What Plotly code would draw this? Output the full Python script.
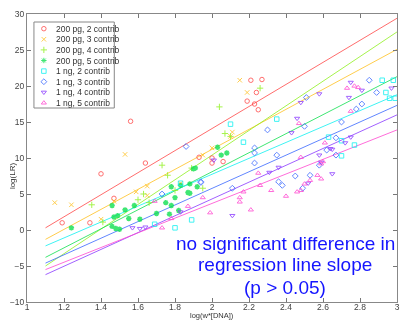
import numpy as np
import plotly.graph_objects as go

# ---------------- data ----------------
series_names = ["200 pg, 2 contrib", "200 pg, 3 contrib", "200 pg, 4 contrib", "200 pg, 5 contrib",
                "1 ng, 2 contrib", "1 ng, 3 contrib", "1 ng, 4 contrib", "1 ng, 5 contrib"]

pg200_2_x = [1.19, 1.34, 1.40, 1.47, 1.56, 1.64, 1.93, 2.00, 2.00, 2.06, 2.19, 2.21, 2.23, 2.24, 2.25, 2.27]
pg200_2_y = [1.0, 1.0, 7.8, 4.4, 15.1, 9.3, 10.1, 10.0, 9.3, 9.5, 17.9, 20.8, 17.5, 19.1, 16.7, 20.9]

pg200_3_x = [1.15, 1.24, 1.40, 1.47, 1.53, 1.59, 1.65, 1.65, 1.83, 1.95, 2.00, 2.10, 2.11, 2.15, 2.19]
pg200_3_y = [3.8, 3.5, 1.5, 4.0, 10.5, 5.3, 6.1, 4.8, 6.5, 10.4, 11.4, 13.0, 13.6, 20.8, 19.1]

pg200_4_x = [1.35, 1.41, 1.60, 1.63, 1.66, 1.73, 1.76, 1.80, 1.89, 1.95, 2.04, 2.07, 2.10, 2.26]
pg200_4_y = [3.5, 1.1, 4.2, 5.0, 3.8, 9.0, 7.6, 5.5, 8.6, 5.8, 17.1, 13.4, 13.0, 19.7]

pg200_5_x = [1.24, 1.46, 1.46, 1.47, 1.48, 1.49, 1.50, 1.53, 1.55, 1.58, 1.61, 1.70, 1.75, 1.77,
             1.78, 1.78, 1.80, 1.82, 1.83, 1.87, 1.88, 1.88, 1.90, 1.91, 1.92, 2.03, 2.05, 2.08]
pg200_5_y = [0.3, 3.4, 0.5, 1.8, 0.2, 2.0, 0.1, 2.8, 1.6, 3.4, 1.5, 2.3, 3.8, 2.2,
             3.4, 6.0, 4.5, 2.7, 6.2, 5.2, 5.1, 6.4, 8.5, 8.6, 6.0, 11.5, 10.4, 10.7]

ng1_2_x = [1.69, 1.80, 1.83, 1.89, 2.10, 2.17, 2.35, 2.63, 2.70, 2.70, 2.77, 2.92, 2.94, 2.96, 2.98, 2.99]
ng1_2_y = [0.8, 0.3, 6.5, 1.4, 14.7, 12.2, 15.4, 12.9, 12.4, 10.3, 11.8, 20.8, 19.1, 18.3, 20.8, 18.3]

ng1_3_x = [1.73, 1.86, 1.94, 1.94, 2.11, 2.23, 2.23, 2.23, 2.30, 2.35, 2.36, 2.38, 2.45, 2.49, 2.50,
           2.51, 2.53, 2.58, 2.62, 2.67, 2.67, 2.70, 2.78, 2.81, 2.85, 2.89]
ng1_3_y = [5.0, 11.6, 6.6, 6.7, 5.8, 11.4, 10.7, 9.3, 13.9, 10.4, 6.7, 6.2, 7.5, 5.8, 14.4,
           18.4, 7.6, 9.0, 11.1, 12.8, 10.4, 15.0, 16.8, 17.5, 20.8, 19.1]

ng1_4_x = [1.57, 1.61, 1.64, 1.83, 2.01, 2.11, 2.31, 2.36, 2.43, 2.46, 2.48, 2.52, 2.58, 2.58, 2.59,
           2.64, 2.65, 2.65, 2.72, 2.74, 2.75, 2.75, 2.81, 2.97]
ng1_4_y = [0.3, 0.2, 0.4, 2.5, 9.7, 2.0, 8.0, 8.7, 13.5, 15.5, 17.7, 6.5, 18.9, 10.4, 9.4,
           11.3, 7.8, 11.2, 12.1, 18.4, 20.5, 12.9, 19.4, 19.7]

ng1_5_x = [1.69, 1.73, 1.78, 1.87, 1.95, 1.99, 2.15, 2.15, 2.17, 2.21, 2.25, 2.26, 2.32, 2.40, 2.46,
           2.47, 2.48, 2.48, 2.50, 2.53, 2.57, 2.59, 2.59, 2.60, 2.61, 2.73, 2.75, 2.77, 2.79]
ng1_5_y = [4.0, 0.3, 1.6, 3.3, 4.5, 2.4, 4.5, 3.9, 5.3, 2.8, 7.9, 6.2, 5.5, 4.7, 5.3,
           14.8, 5.5, 10.1, 6.4, 6.9, 7.6, 7.1, 9.2, 9.5, 12.1, 19.7, 16.5, 20.0, 19.8]

# regression lines: log(LR) = intercept + slope * log(w*[DNA])
fit_intercepts = [-16.55, -16.58, -23.82, -18.33, -14.36, -17.28, -19.05, -16.73]
fit_slopes = [15.32, 13.89, 17.11, 13.21, 11.05, 11.53, 11.68, 10.21]
fit_x_range = [1.1, 3.0]

x_ticks = [1, 1.2, 1.4, 1.6, 1.8, 2, 2.2, 2.4, 2.6, 2.8, 3]
x_tick_text = ["1", "1.2", "1.4", "1.6", "1.8", "2", "2.2", "2.4", "2.6", "2.8", "3"]
y_ticks = [-10, -5, 0, 5, 10, 15, 20, 25, 30]

note_lines = ["no significant difference in", "regression line slope", "(p > 0.05)"]

# ---------------- style ----------------
colors = ["#ff4848", "#ffc020", "#90f020", "#10e050", "#10f0f0", "#3a68ff", "#8a3aff", "#ff48d0"]
symbols = ["circle-open", "x-thin-open", "cross-thin-open", "asterisk-open",
           "square-open", "diamond-open", "triangle-down-open", "triangle-up-open"]
xs = [pg200_2_x, pg200_3_x, pg200_4_x, pg200_5_x, ng1_2_x, ng1_3_x, ng1_4_x, ng1_5_x]
ys = [pg200_2_y, pg200_3_y, pg200_4_y, pg200_5_y, ng1_2_y, ng1_3_y, ng1_4_y, ng1_5_y]

W, H = 401, 320
ML, MR, MT, MB = 27, 1, 14, 18
PW, PH = W - ML - MR, H - MT - MB


def px2paper_x(px):
    return (px - ML) / PW


def py2paper_y(py):
    return (H - MB - py) / PH


fig = go.Figure()
FONT = "Liberation Sans, Arial, sans-serif"

for i in range(8):
    xl = np.array(fit_x_range)
    fig.add_trace(go.Scatter(x=xl, y=fit_intercepts[i] + fit_slopes[i] * xl, mode="lines",
                             line=dict(color=colors[i], width=1), opacity=0.8,
                             showlegend=False, hoverinfo="skip"))

for i in range(8):
    sym = symbols[i]
    fig.add_trace(go.Scatter(x=xs[i], y=ys[i], mode="markers", name=series_names[i],
                             marker=dict(symbol=sym, size=4.5,
                                         color=colors[i],
                                         line=dict(color=colors[i], width=1.5 if sym == "asterisk-open" else 1)),
                             opacity=0.8, showlegend=False))

# custom legend in an inset axis
leg_left, leg_right, leg_top, leg_bot = 34, 115, 22, 108
item0, step = 28.7, 10.6
fig.add_trace(go.Scatter(x=[44] * 8, y=list(range(8)), mode="markers",
                         marker=dict(symbol=symbols, size=4.5, color=colors,
                                     line=dict(color=colors, width=1)),
                         xaxis="x2", yaxis="y2", showlegend=False, hoverinfo="skip", opacity=0.8))
for i, name in enumerate(series_names):
    fig.add_annotation(x=54, y=i, xref="x2", yref="y2", text=name, showarrow=False,
                       xanchor="left", yanchor="middle", font=dict(size=8.5, color="#333", family=FONT))

fig.add_shape(type="rect", xref="paper", yref="paper",
              x0=px2paper_x(leg_left), x1=px2paper_x(leg_right),
              y0=py2paper_y(leg_bot), y1=py2paper_y(leg_top),
              line=dict(color="#888", width=1), fillcolor="rgba(255,255,255,0)", layer="above")

note_py = [243, 264.5, 287.5]
for t, py in zip(note_lines, note_py):
    fig.add_annotation(x=px2paper_x(287.5), y=py2paper_y(py), xref="paper", yref="paper",
                       text=t, showarrow=False, xanchor="center", yanchor="middle",
                       font=dict(size=19, color="#1515ff", family=FONT))

fig.add_annotation(x=px2paper_x(213.5), y=py2paper_y(315.5), xref="paper", yref="paper",
                   text="log(w*[DNA])", showarrow=False, xanchor="center", yanchor="middle",
                   font=dict(size=7.5, color="#333", family=FONT))
fig.add_annotation(x=px2paper_x(12), y=py2paper_y(176), xref="paper", yref="paper",
                   text="log(LR)", showarrow=False, textangle=-90, xanchor="center", yanchor="middle",
                   font=dict(size=8, color="#333", family=FONT))

axis_common = dict(showgrid=False, zeroline=False, ticks="inside", ticklen=4, tickcolor="#777",
                   showline=True, linecolor="#888", linewidth=1, mirror="ticks",
                   ticklabeloverflow="allow",
                   tickfont=dict(size=8.5, color="#444", family=FONT))

fig.update_layout(
    width=W, height=H, margin=dict(l=ML, r=MR, t=MT, b=MB),
    paper_bgcolor="white", plot_bgcolor="white",
    xaxis=dict(range=[1, 3], tickvals=x_ticks, ticktext=x_tick_text, ticklabelstandoff=-3, **axis_common),
    yaxis=dict(range=[-10, 30], tickvals=y_ticks, **axis_common),
    xaxis2=dict(domain=[px2paper_x(leg_left), px2paper_x(leg_right)], range=[leg_left, leg_right],
                visible=False, anchor="y2", fixedrange=True),
    yaxis2=dict(domain=[py2paper_y(leg_bot), py2paper_y(leg_top)],
                range=[(leg_bot - item0) / step, (leg_top - item0) / step],
                visible=False, anchor="x2", fixedrange=True),
    showlegend=False,
)

fig.write_html("out.html", config={"displayModeBar": False},
               post_script="document.body.style.margin='0px';document.body.style.overflow='hidden';")
